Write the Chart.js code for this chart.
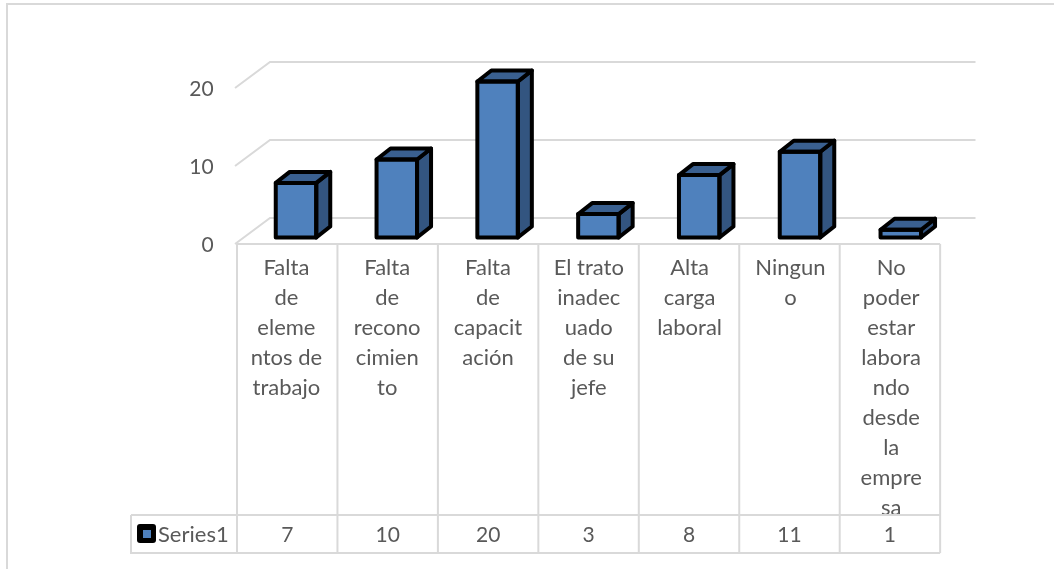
<!DOCTYPE html>
<html>
<head>
<meta charset="utf-8">
<style>
  html, body { margin: 0; padding: 0; background: #fff; overflow: hidden; }
  #wrap { position: relative; width: 1054px; height: 569px; }
</style>
<script src="https://cdn.jsdelivr.net/npm/chart.js@4"></script>
</head>
<body>
<div id="wrap"><canvas id="chart"></canvas></div>
<script>
const categories = [
  ['Falta', 'de', 'eleme', 'ntos de', 'trabajo'],
  ['Falta', 'de', 'recono', 'cimien', 'to'],
  ['Falta', 'de', 'capacit', 'ación'],
  ['El trato', 'inadec', 'uado', 'de su', 'jefe'],
  ['Alta', 'carga', 'laboral'],
  ['Ningun', 'o'],
  ['No', 'poder', 'estar', 'labora', 'ndo', 'desde', 'la', 'empre', 'sa']
];
const seriesName = 'Series1';
const seriesValues = [7, 10, 20, 3, 8, 11, 1];
const yTicks = [0, 10, 20];

const FONT = 'Lato, Carlito, sans-serif';
const TEXT = '#595959';
const LINE = '#d9d9d9';
const FRONT = '#4f81bd';
const SIDE = '#335580';
const TOP = '#3a6090';

// fake 3D: wall and floor offsets, table cells
const wall = { dx: 33, dy: -26, front: 6.5, right: 975.5 };
const table = { left: 237, step: 100.45, top: 244, row: 515, bottom: 553, keyLeft: 131 };
const depth = { dx: 14, dy: -11 };

const frame3d = {
  id: 'frame3d',
  beforeDatasetsDraw(chart) {
    const { ctx, scales: { y } } = chart;
    const cols = seriesValues.length;
    ctx.save();
    ctx.strokeStyle = LINE;
    ctx.lineWidth = 2;

    // outer chart border, only top and left show in the crop
    ctx.beginPath();
    ctx.moveTo(7, 569);
    ctx.lineTo(7, 4);
    ctx.lineTo(1054, 4);
    ctx.stroke();

    // back wall gridlines and the slant down the side wall
    yTicks.forEach(v => {
      const py = y.getPixelForValue(v) + wall.front;
      ctx.beginPath();
      ctx.moveTo(table.left - 2, py);
      ctx.lineTo(table.left + wall.dx, py + wall.dy);
      ctx.lineTo(wall.right, py + wall.dy);
      ctx.stroke();
    });

    // data table grid
    ctx.beginPath();
    const tableRight = table.left + table.step * cols;
    ctx.moveTo(table.left, table.top);
    ctx.lineTo(tableRight, table.top);
    for (let i = 0; i <= cols; i++) {
      const px = table.left + table.step * i;
      ctx.moveTo(px, table.top);
      ctx.lineTo(px, table.bottom);
    }
    ctx.moveTo(table.keyLeft, table.row);
    ctx.lineTo(tableRight, table.row);
    ctx.moveTo(table.keyLeft, table.row);
    ctx.lineTo(table.keyLeft, table.bottom);
    ctx.lineTo(tableRight, table.bottom);
    ctx.stroke();

    // data table text
    ctx.fillStyle = TEXT;
    ctx.font = '21px ' + FONT;
    ctx.textBaseline = 'middle';
    ctx.textAlign = 'center';
    seriesValues.forEach((v, i) => {
      ctx.fillText(String(v), table.left + table.step * (i + 0.5), 535);
    });
    ctx.textAlign = 'left';
    ctx.font = '22px ' + FONT;
    ctx.fillText(seriesName, 158, 535);

    // legend key
    ctx.fillStyle = '#000';
    ctx.beginPath();
    ctx.roundRect(137, 524, 19, 19, 3);
    ctx.fill();
    ctx.fillStyle = FRONT;
    ctx.fillRect(143, 530, 8, 8);
    ctx.restore();
  },
  afterDatasetsDraw(chart) {
    const { ctx } = chart;
    const bars = chart.getDatasetMeta(0).data;
    ctx.save();
    ctx.strokeStyle = '#000';
    ctx.lineWidth = 4;
    ctx.lineJoin = 'round';
    bars.forEach(bar => {
      const l = bar.x - bar.width / 2;
      const r = bar.x + bar.width / 2;
      const t = bar.y;
      const b = bar.base;
      const poly = (pts, fill) => {
        ctx.beginPath();
        pts.forEach((p, i) => (i ? ctx.lineTo(p[0], p[1]) : ctx.moveTo(p[0], p[1])));
        ctx.closePath();
        ctx.fillStyle = fill;
        ctx.fill();
        ctx.stroke();
      };
      poly([[r, t], [r + depth.dx, t + depth.dy], [r + depth.dx, b + depth.dy], [r, b]], SIDE);
      poly([[l, t], [l + depth.dx, t + depth.dy], [r + depth.dx, t + depth.dy], [r, t]], TOP);
      ctx.strokeRect(l, t, r - l, b - t);
    });
    ctx.restore();
  }
};

new Chart(document.getElementById('chart'), {
  type: 'bar',
  data: {
    labels: categories,
    datasets: [{
      label: seriesName,
      data: seriesValues,
      backgroundColor: FRONT,
      borderWidth: 0,
      barThickness: 40.5
    }]
  },
  plugins: [frame3d],
  options: {
    responsive: true,
    maintainAspectRatio: false,
    animation: false,
    layout: { padding: { top: 81.5, right: 102.8, bottom: 0, left: 0 } },
    plugins: { legend: { display: false }, tooltip: { enabled: false } },
    scales: {
      x: {
        grid: { display: false },
        border: { display: false },
        afterFit: s => { s.height = 569 - 237.5; },
        ticks: {
          color: TEXT,
          maxRotation: 0,
          autoSkip: false,
          padding: 7,
          labelOffset: -9.6,
          font: { family: FONT, size: 22, lineHeight: '30px' }
        }
      },
      y: {
        min: 0,
        max: 20,
        grid: { display: false },
        border: { display: false },
        afterFit: s => { s.width = 245.6; },
        afterBuildTicks: s => { s.ticks = yTicks.map(value => ({ value })); },
        ticks: {
          color: TEXT,
          padding: 24,
          labelOffset: 7.5,
          font: { family: FONT, size: 21 }
        }
      }
    }
  }
});
</script>
</body>
</html>
